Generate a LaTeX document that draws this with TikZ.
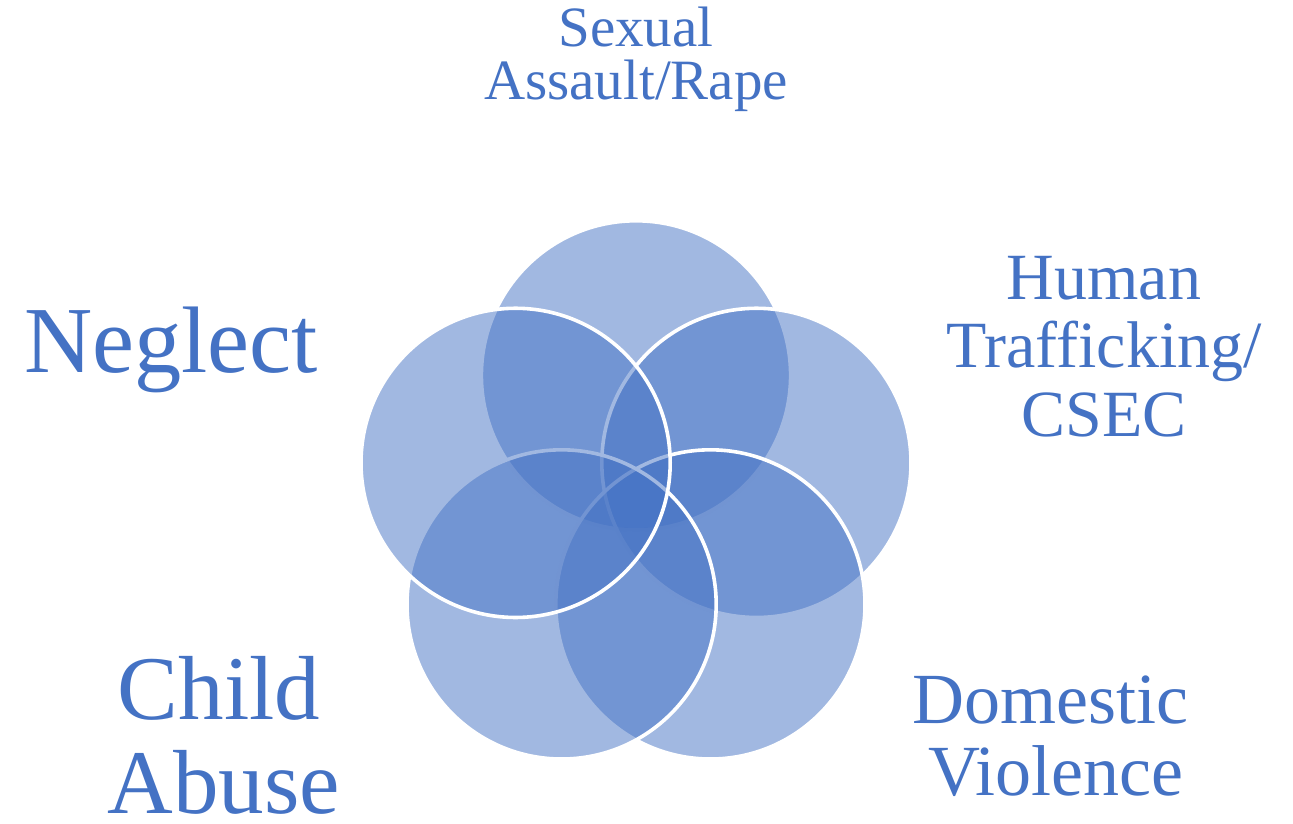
\documentclass[tikz,border=0pt]{standalone}
\usepackage{fontspec}
\setmainfont{Liberation Serif}
\usetikzlibrary{calc}
\definecolor{ofblue}{HTML}{4472C4}
\begin{document}
\begin{tikzpicture}[x=1pt,y=1pt,
  petal/.style={circle, inner sep=0pt, minimum size=309.2pt, fill=ofblue, fill opacity=0.5, draw=white, line width=3.6pt},
  lbl/.style={text=ofblue, anchor=base, inner sep=0pt},
]
\useasboundingbox (0,0) rectangle (1293,823);
\coordinate (c) at (636,321);
\node[petal] (t)  at ($(c)+(90:126.6)$) {};
\node[petal] (r)  at ($(c)+(18:126.6)$) {};
\node[petal] (br) at ($(c)+(-54:126.6)$) {};
\node[petal] (bl) at ($(c)+(-126:126.6)$) {};
\node[petal] (l)  at ($(c)+(162:126.6)$) {};
% labels
\node[lbl, font=\fontsize{57}{57}\selectfont] (sa1) at (636,776) {Sexual};
\node[lbl, font=\fontsize{57}{57}\selectfont] (sa2) at (636,723) {Assault/Rape};
\node[lbl, font=\fontsize{94.5}{94.5}\selectfont] (ng) at (171,450) {Neglect};
\node[lbl, font=\fontsize{66}{66}\selectfont] (ht1) at (1104,523) {Human};
\node[lbl, font=\fontsize{66}{66}\selectfont] (ht2) at (1104,455) {Trafficking/};
\node[lbl, font=\fontsize{66}{66}\selectfont] (ht3) at (1104,386) {CSEC};
\node[lbl, font=\fontsize{91}{91}\selectfont] (ca1) at (219,104) {Child};
\node[lbl, font=\fontsize{91}{91}\selectfont] (ca2) at (224,10) {Abuse};
\node[lbl, font=\fontsize{72}{72}\selectfont] (dv1) at (1050,100) {Domestic};
\node[lbl, font=\fontsize{72}{72}\selectfont] (dv2) at (1056,28) {Violence};
\end{tikzpicture}
\end{document}
